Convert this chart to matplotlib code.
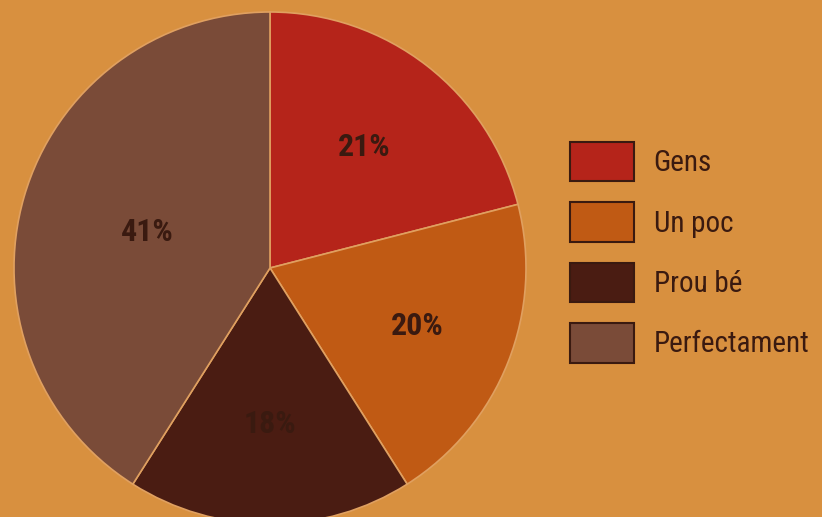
import matplotlib
matplotlib.use("Agg")
import matplotlib.pyplot as plt
from matplotlib.patches import Patch

labels = ["Gens", "Un poc", "Prou bé", "Perfectament"]
values = [21, 20, 18, 41]
colors = ["#B5241A", "#C05A14", "#4A1C12", "#7A4B38"]
label_dist = [0.6, 0.62, 0.61, 0.5]

BG = "#D8903F"
TXT = "#3A1A10"
FONT = ["Liberation Sans Narrow", "DejaVu Sans Condensed", "Roboto Condensed", "Roboto", "DejaVu Sans"]

fig = plt.figure(figsize=(8.22, 5.17), dpi=100, facecolor=BG)
ax = fig.add_axes([0, 0, 1, 1])
ax.set_facecolor(BG)

cx, cy, r = 270, 249, 256
wedges, texts, autotexts = ax.pie(
    values, colors=colors, startangle=90, counterclock=False,
    center=(cx, cy), radius=r, frame=True,
    autopct="%d%%", pctdistance=0.6,
    wedgeprops=dict(edgecolor="#E0A060", linewidth=1.2),
    textprops=dict(color=TXT, fontsize=23, fontweight="bold", family=FONT),
)
# pull each percentage label to its own distance from the centre
for t, d in zip(autotexts, label_dist):
    x, y = t.get_position()
    t.set_position((cx + (x - cx) * d / 0.6, cy + (y - cy) * d / 0.6))

ax.set_xlim(0, 822)
ax.set_ylim(0, 517)
ax.set_aspect("equal")
ax.axis("off")

handles = [Patch(facecolor=c, edgecolor="#3A1A10", linewidth=1.5) for c in colors]
leg = ax.legend(handles, labels, loc="upper left", bbox_to_anchor=(0.661, 0.776),
                frameon=False, handlelength=2.2, handleheight=1.7, labelspacing=0.72,
                handletextpad=0.68, prop=dict(family=FONT, size=21))
for t in leg.get_texts():
    t.set_color(TXT)

fig.savefig("out.png", dpi=100, facecolor=BG)
